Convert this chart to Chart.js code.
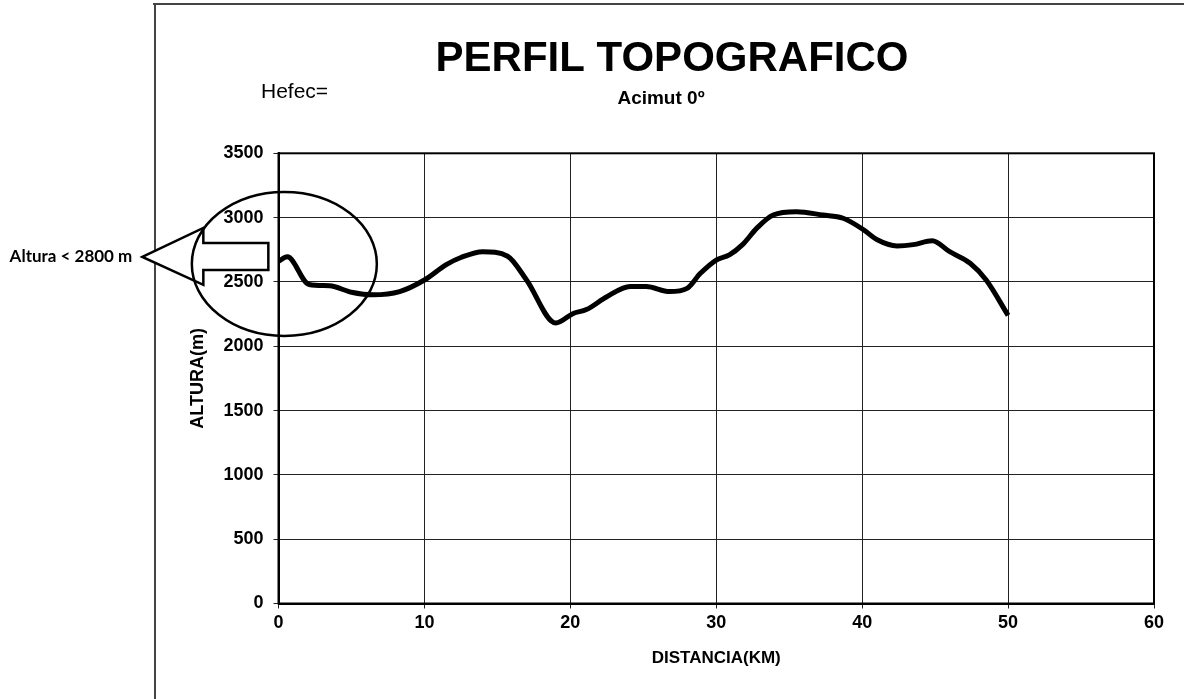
<!DOCTYPE html>
<html>
<head>
<meta charset="utf-8">
<script src="https://cdn.jsdelivr.net/npm/chart.js@4.4.1/dist/chart.umd.min.js"></script>
<style>
  html, body { margin: 0; padding: 0; background: #fff; }
  #wrap { width: 1184px; height: 699px; position: relative; }
</style>
</head>
<body>
<div id="wrap"><canvas id="perfil" width="1184" height="699"></canvas></div>
<script>
// Perfil topografico - acimut 0
const distancia = [0, 0.6, 2.1, 3.5, 5, 6.5, 8.3, 10, 11.5, 12.5, 14, 15.7, 17, 19, 20.2, 21.1, 22.5, 24.1, 25.2, 26.8, 28, 28.9, 30, 30.9, 31.8, 32.8, 33.9, 35.5, 37.3, 38.7, 40.1, 41, 42.4, 43.5, 44.8, 46, 47.4, 48.5, 50];
const altura = [2660, 2695, 2480, 2470, 2420, 2400, 2425, 2515, 2635, 2690, 2735, 2700, 2515, 2180, 2255, 2285, 2385, 2465, 2465, 2425, 2450, 2565, 2670, 2710, 2790, 2920, 3020, 3045, 3020, 2995, 2905, 2830, 2780, 2790, 2820, 2735, 2645, 2515, 2240];
const xTicks = { min: 0, max: 60, step: 10 };
const yTicks = { min: 0, max: 3500, step: 500 };

const titulo = 'PERFIL TOPOGRAFICO';
const subtitulo = 'Acimut 0º';
const hefec = 'Hefec=';
const nota = 'Altura < 2800 m';

const FONT = "'Liberation Sans', Arial, sans-serif";

const decor = {
  id: 'decor',
  beforeDraw(chart) {
    const ctx = chart.ctx;
    ctx.save();
    ctx.fillStyle = '#fff';
    ctx.fillRect(0, 0, chart.width, chart.height);
    // outer frame (top and left)
    ctx.strokeStyle = '#444';
    ctx.lineWidth = 2;
    ctx.beginPath();
    ctx.moveTo(153, 4);
    ctx.lineTo(1184, 4);
    ctx.moveTo(155, 4);
    ctx.lineTo(155, 699);
    ctx.stroke();
    ctx.restore();
  },
  afterDraw(chart) {
    const ctx = chart.ctx;
    const { left, top, right, bottom } = chart.chartArea;
    ctx.save();
    // plot border
    ctx.strokeStyle = '#000';
    ctx.lineWidth = 2;
    ctx.strokeRect(left, top, right - left, bottom - top);

    // titles
    ctx.fillStyle = '#000';
    ctx.textBaseline = 'alphabetic';
    ctx.textAlign = 'center';
    ctx.font = 'bold 42px ' + FONT;
    ctx.fillText(titulo, 672, 71);
    ctx.font = 'bold 19px ' + FONT;
    ctx.fillText(subtitulo, 661, 104);
    ctx.textAlign = 'left';
    ctx.font = '21px ' + FONT;
    ctx.fillText(hefec, 261, 98);

    // annotation: arrow + ellipse around the start of the profile
    const sx = chart.scales.x, sy = chart.scales.y;
    const cx = sx.getPixelForValue(0.4);
    const cy = sy.getPixelForValue(2640);
    const tipX = cx - 142, tipY = cy - 7;
    const baseX = cx - 81;
    const endX = cx - 16;
    ctx.beginPath();
    ctx.moveTo(tipX, tipY);
    ctx.lineTo(baseX, tipY - 29);
    ctx.lineTo(baseX, tipY - 14);
    ctx.lineTo(endX, tipY - 14);
    ctx.lineTo(endX, tipY + 13);
    ctx.lineTo(baseX, tipY + 13);
    ctx.lineTo(baseX, tipY + 28);
    ctx.closePath();
    ctx.fillStyle = '#fff';
    ctx.fill();
    ctx.lineWidth = 2.5;
    ctx.strokeStyle = '#000';
    ctx.stroke();

    ctx.beginPath();
    ctx.ellipse(cx, cy, 92.5, 72, 0, 0, Math.PI * 2);
    ctx.lineWidth = 2.5;
    ctx.stroke();

    ctx.fillStyle = '#000';
    ctx.font = "bold 17px Lato, 'Liberation Sans', sans-serif";
    ctx.textAlign = 'right';
    ctx.textBaseline = 'middle';
    ctx.fillText(nota, tipX - 10, tipY);
    ctx.restore();
  }
};

new Chart(document.getElementById('perfil'), {
  type: 'scatter',
  data: {
    datasets: [{
      data: distancia.map((d, i) => ({ x: d, y: altura[i] })),
      showLine: true,
      borderColor: '#000',
      borderWidth: 5,
      pointRadius: 0,
      cubicInterpolationMode: 'monotone',
      fill: false
    }]
  },
  options: {
    responsive: false,
    animation: false,
    layout: { padding: { left: 148.5, top: 153.3, right: 30, bottom: 15.5 } },
    plugins: { legend: { display: false }, tooltip: { enabled: false } },
    scales: {
      x: {
        type: 'linear',
        min: xTicks.min,
        max: xTicks.max,
        afterFit(scale) { scale.height = 80; },
        ticks: { stepSize: xTicks.step, color: '#000', padding: 4, callback: v => String(v), font: { family: FONT, size: 18, weight: 'bold' } },
        grid: { color: '#222', lineWidth: 1, tickLength: 5 },
        border: { color: '#000', width: 2 },
        title: { display: true, text: 'DISTANCIA(KM)', color: '#000', padding: { top: 0, bottom: 14.5 }, font: { family: FONT, size: 17, weight: 'bold' } }
      },
      y: {
        min: yTicks.min,
        max: yTicks.max,
        afterFit(scale) { scale.width = 130; },
        ticks: { stepSize: yTicks.step, color: '#000', padding: 10, callback: v => String(v), font: { family: FONT, size: 18, weight: 'bold' } },
        grid: { color: '#222', lineWidth: 1, tickLength: 5 },
        border: { color: '#000', width: 2 },
        title: { display: true, text: 'ALTURA(m)', color: '#000', padding: { top: 39, bottom: 0 }, font: { family: FONT, size: 18, weight: 'bold' } }
      }
    }
  },
  plugins: [decor]
});
</script>
</body>
</html>
